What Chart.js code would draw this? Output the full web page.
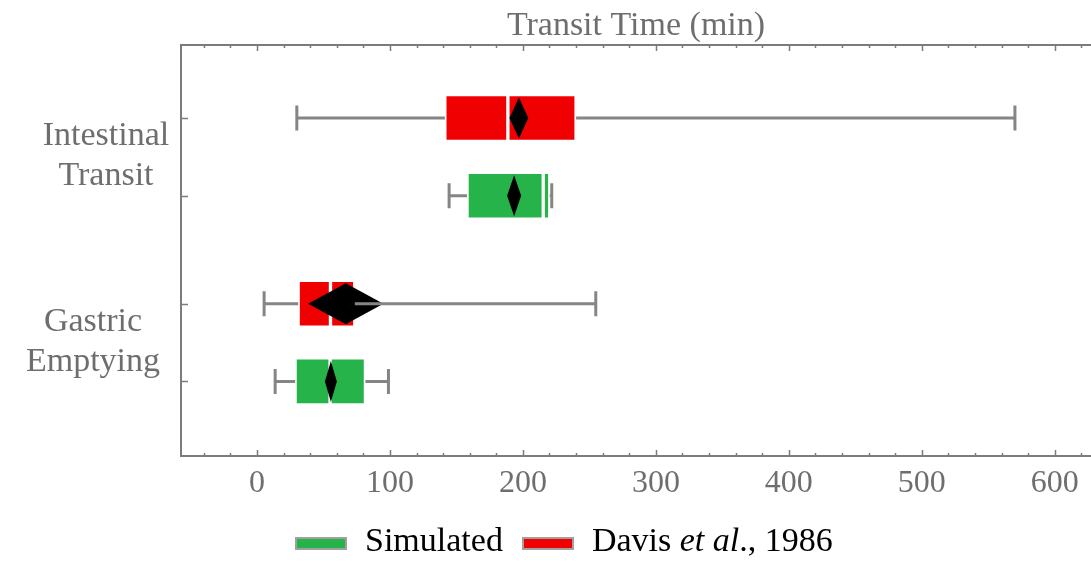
<!DOCTYPE html>
<html>
<head>
<meta charset="utf-8">
<script src="https://cdn.jsdelivr.net/npm/chart.js@4.4.1/dist/chart.umd.min.js"></script>
<style>
  html, body { margin: 0; padding: 0; background: #fff; }
  #wrap { position: relative; width: 1091px; height: 562px; overflow: hidden; }
  #legend {
    position: absolute; left: 295px; top: 521px;
    display: flex; align-items: center;
    font: 34px 'Liberation Serif', serif; line-height: 38px;
    color: #000; white-space: nowrap;
  }
  .sw { width: 48px; height: 9px; border: 2px solid #a0a0a0; position: relative; top: 3px; margin-right: 18px; }
</style>
</head>
<body>
<div id="wrap">
  <canvas id="c" width="1091" height="562"></canvas>
  <div id="legend">
    <span class="sw" style="background:#26b34a"></span><span>Simulated</span>
    <span class="sw" style="background:#f00000; margin-left:19px"></span><span>Davis <i>et al</i>., 1986</span>
  </div>
</div>
<script>
// groups, top to bottom
const groups = [['Intestinal', 'Transit'], ['Gastric', 'Emptying']];
const groupLabelX = [106, 93];

// row positions on the y axis (Davis row above, Simulated row below)
const davisRow = [1, 3.39];
const simRow = [2, 4.39];

// Davis et al., 1986 (min)
const davisLo = [30, 5.4];
const davisQ1 = [141.3, 31];
const davisMedian = [188.7, 55.3];
const davisQ3 = [240, 73.6];
const davisHi = [570, 254.8];
const davisMean = [197, 66.8];
const davisMeanErr = [7.1, 28.3];

// Simulated (min)
const simLo = [144.5, 13.7];
const simQ1 = [158, 28.7];
const simMedian = [215.3, 55];
const simQ3 = [220.2, 81.6];
const simHi = [221.7, 98.9];
const simMean = [193.4, 55.6];
const simMeanErr = [5.3, 4.5];

const xTicks = [0, 100, 200, 300, 400, 500, 600];
const xMinorStep = 20;

const GREY = '#6e6e6e';
const AXIS = '#7c7c7c';
const WHISKER = '#858585';
const FONT = "'Liberation Serif', serif";

function halves(rows, q1, med, q3) {
  const out = [];
  rows.forEach((r, i) => {
    out.push({ y: r, x: [q1[i], med[i]] });
    out.push({ y: r, x: [med[i], q3[i]] });
  });
  return out;
}

const boxExtras = {
  id: 'boxExtras',
  afterDatasetsDraw(chart) {
    const { ctx, chartArea: a, scales: { x, y } } = chart;
    const sets = [
      { row: davisRow, lo: davisLo, q1: davisQ1, q3: davisQ3, hi: davisHi, mean: davisMean, err: davisMeanErr },
      { row: simRow, lo: simLo, q1: simQ1, q3: simQ3, hi: simHi, mean: simMean, err: simMeanErr }
    ];
    ctx.save();
    // mean diamonds
    ctx.fillStyle = '#000';
    sets.forEach(s => s.row.forEach((r, i) => {
      const py = y.getPixelForValue(r);
      const cx = x.getPixelForValue(s.mean[i]);
      const l = x.getPixelForValue(s.mean[i] - s.err[i]);
      const rr = x.getPixelForValue(s.mean[i] + s.err[i]);
      ctx.beginPath();
      ctx.moveTo(l, py);
      ctx.lineTo(cx, py - 20.5);
      ctx.lineTo(rr, py);
      ctx.lineTo(cx, py + 20.5);
      ctx.closePath();
      ctx.fill();
    }));
    // whiskers
    ctx.strokeStyle = WHISKER;
    ctx.lineWidth = 3;
    sets.forEach(s => s.row.forEach((r, i) => {
      const py = y.getPixelForValue(r);
      const pLo = x.getPixelForValue(s.lo[i]);
      const pQ1 = x.getPixelForValue(s.q1[i]);
      const pQ3 = x.getPixelForValue(s.q3[i]);
      const pHi = x.getPixelForValue(s.hi[i]);
      ctx.beginPath();
      ctx.moveTo(pLo, py); ctx.lineTo(pQ1, py);
      ctx.moveTo(pQ3, py); ctx.lineTo(pHi, py);
      ctx.moveTo(pLo, py - 12.5); ctx.lineTo(pLo, py + 12.5);
      ctx.moveTo(pHi, py - 12.5); ctx.lineTo(pHi, py + 12.5);
      ctx.stroke();
    }));

    // frame
    ctx.strokeStyle = AXIS;
    ctx.lineWidth = 2;
    ctx.beginPath();
    ctx.moveTo(a.right + 2, a.top); ctx.lineTo(a.left, a.top);
    ctx.lineTo(a.left, a.bottom); ctx.lineTo(a.right + 2, a.bottom);
    ctx.stroke();

    // x ticks, top and bottom, pointing inward
    ctx.lineWidth = 1.5;
    ctx.beginPath();
    for (let v = Math.ceil(x.min / xMinorStep) * xMinorStep; v <= x.max; v += xMinorStep) {
      const px = Math.round(x.getPixelForValue(v)) + 0.5;
      const len = xTicks.includes(v) ? 6 : 3;
      ctx.moveTo(px, a.bottom); ctx.lineTo(px, a.bottom - len);
      ctx.moveTo(px, a.top); ctx.lineTo(px, a.top + len);
    }
    // y ticks at rows
    davisRow.concat(simRow).forEach(r => {
      const py = Math.round(y.getPixelForValue(r)) + 0.5;
      ctx.moveTo(a.left, py); ctx.lineTo(a.left + 7, py);
    });
    ctx.stroke();

    // title
    ctx.fillStyle = GREY;
    ctx.font = '34px ' + FONT;
    ctx.textAlign = 'center';
    ctx.textBaseline = 'alphabetic';
    ctx.fillText('Transit Time (min)', (a.left + a.right) / 2, 35);

    // group labels
    ctx.font = '34px ' + FONT;
    groups.forEach((lines, i) => {
      const mid = (y.getPixelForValue(davisRow[i]) + y.getPixelForValue(simRow[i])) / 2;
      ctx.fillText(lines[0], groupLabelX[i], mid - 12);
      ctx.fillText(lines[1], groupLabelX[i], mid + 28);
    });
    ctx.restore();
  }
};

new Chart(document.getElementById('c'), {
  type: 'bar',
  data: {
    datasets: [
      {
        label: 'Simulated',
        data: halves(simRow, simQ1, simMedian, simQ3),
        backgroundColor: '#26b34a'
      },
      {
        label: 'Davis et al., 1986',
        data: halves(davisRow, davisQ1, davisMedian, davisQ3),
        backgroundColor: '#f00000'
      }
    ]
  },
  options: {
    indexAxis: 'y',
    responsive: false,
    animation: false,
    grouped: false,
    barThickness: 47,
    borderWidth: 2,
    borderColor: '#ffffff',
    borderSkipped: false,
    layout: { padding: 0 },
    plugins: { legend: { display: false }, tooltip: { enabled: false } },
    scales: {
      x: {
        type: 'linear',
        position: 'bottom',
        min: -57.1,
        max: 627.2,
        afterBuildTicks: s => { s.ticks = xTicks.map(v => ({ value: v })); },
        afterFit: s => { s.height = 106; },
        grid: { display: false, drawTicks: false },
        border: { display: false },
        ticks: { color: GREY, font: { family: FONT, size: 32 }, padding: 8, maxRotation: 0 }
      },
      x2: {
        type: 'linear',
        position: 'top',
        min: -57.1,
        max: 627.2,
        afterFit: s => { s.height = 45; },
        grid: { display: false, drawTicks: false },
        border: { display: false },
        ticks: { display: false }
      },
      y: {
        type: 'linear',
        reverse: true,
        offset: false,
        min: 0.06,
        max: 5.35,
        afterFit: s => { s.width = 181; },
        grid: { display: false, drawTicks: false, offset: false },
        border: { display: false },
        ticks: { display: false }
      }
    }
  },
  plugins: [boxExtras]
});
</script>
</body>
</html>
